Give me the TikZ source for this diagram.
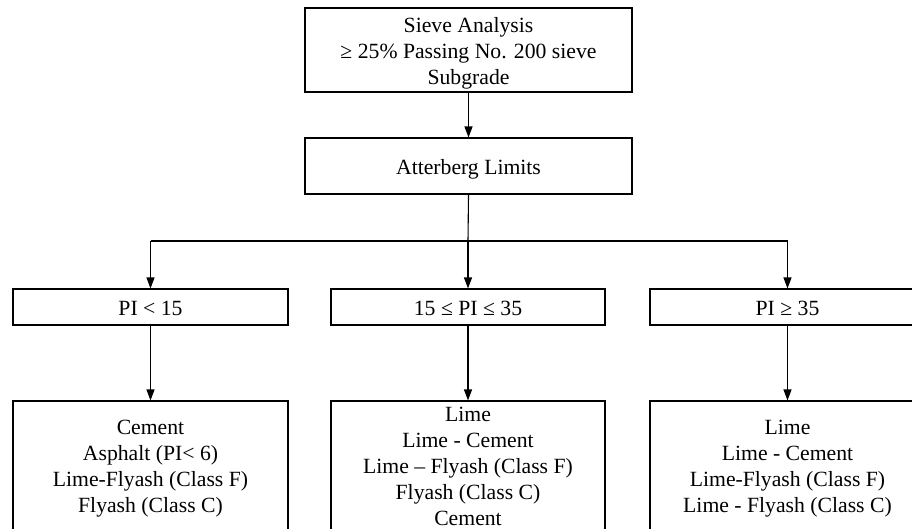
\documentclass[tikz,border=0pt]{standalone}
\usepackage{fontspec}
\setmainfont{Liberation Serif}
\usetikzlibrary{arrows.meta}
\begin{document}
\begin{tikzpicture}[x=1pt,y=-1pt,
  box/.style={draw, line width=1.1pt, inner sep=0pt},
  txt/.style={inner sep=0pt, align=center, font=\fontsize{21.7}{26}\selectfont},
  line/.style={line width=1.1pt},
  arr/.style={line, -{Triangle[length=11pt,width=8pt]}}]
\useasboundingbox (0,0) rectangle (912,528);
\clip (0,0) rectangle (912,528);
\node[box, minimum width=327pt, minimum height=84pt] (sieve) at (468.5,50) {};
\node[box, minimum width=327pt, minimum height=56pt] (att) at (468.5,166) {};
\node[box, minimum width=275pt, minimum height=36pt] (pa) at (150.5,307) {};
\node[box, minimum width=274pt, minimum height=36pt] (pb) at (468,307) {};
\node[box, minimum width=275pt, minimum height=36pt] (pc) at (787.5,307) {};
\node[box, minimum width=275pt, minimum height=130pt] (ra) at (150.5,466) {};
\node[box, minimum width=274pt, minimum height=130pt] (rb) at (468,466) {};
\node[box, minimum width=275pt, minimum height=130pt] (rc) at (787.5,466) {};
\node[txt] (tsieve) at ([yshift=-3.5pt]sieve.center) {Sieve Analysis\\ ≥ 25\% Passing No. 200 sieve\\ Subgrade};
\node[txt] (tatt) at ([yshift=-3pt]att.center) {Atterberg Limits};
\node[txt] (tpa) at ([yshift=-1pt]pa.center) {PI < 15};
\node[txt] (tpb) at ([yshift=-1pt]pb.center) {15 ≤ PI ≤ 35};
\node[txt] (tpc) at ([yshift=-1pt]pc.center) {PI ≥ 35};
\node[txt] (tra) at ([yshift=-3pt]ra.center) {Cement\\ Asphalt (PI< 6)\\ Lime-Flyash (Class F)\\ Flyash (Class C)};
\node[txt] (trb) at ([yshift=-0.5pt]rb.center) {Lime\\ Lime - Cement\\ Lime – Flyash (Class F)\\ Flyash (Class C)\\ Cement};
\node[txt] (trc) at ([yshift=-3pt]rc.center) {Lime\\ Lime - Cement\\ Lime-Flyash (Class F)\\ Lime - Flyash (Class C)};
\coordinate (jl) at (150.5,241);
\coordinate (jc) at (468,241);
\coordinate (jr) at (787.5,241);
\draw[arr] (sieve.south) -- (att.north);
\draw[line] (att.south) -- (jc);
\draw[line] (jl) -- (jr);
\draw[arr] (jl) -- (pa.north);
\draw[arr] (jc) -- (pb.north);
\draw[arr] (jr) -- (pc.north);
\draw[arr] (pa.south) -- (ra.north);
\draw[arr] (pb.south) -- (rb.north);
\draw[arr] (pc.south) -- (rc.north);
\end{tikzpicture}
\end{document}
